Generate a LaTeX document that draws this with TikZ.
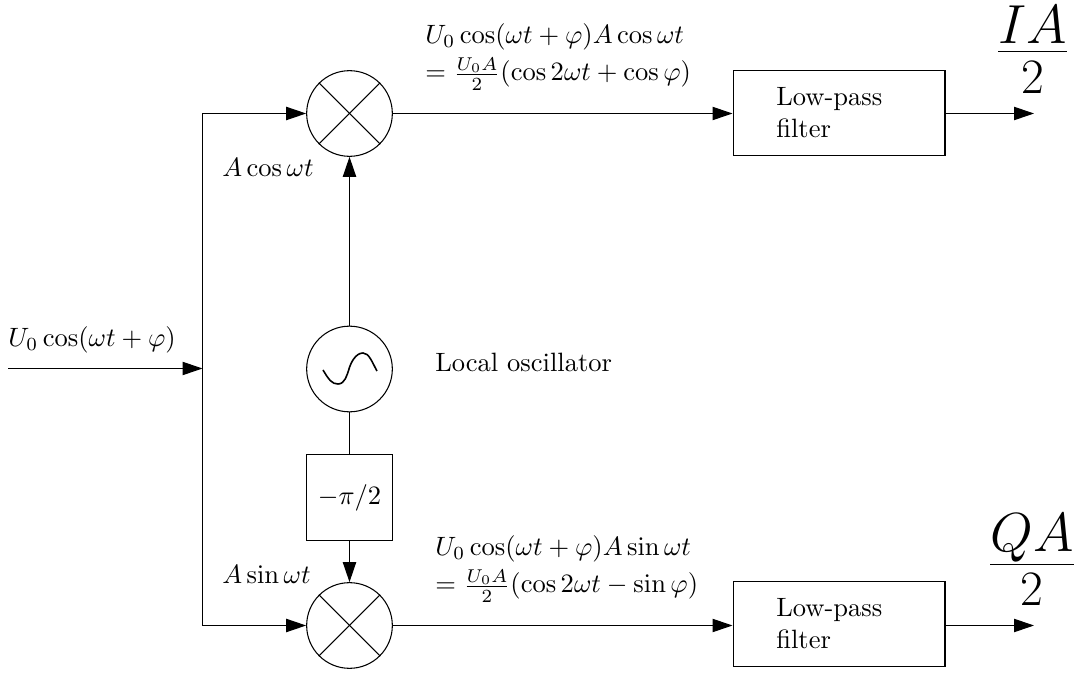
\documentclass[tikz,border=0pt]{standalone}
\usepackage{amsmath, amssymb, graphicx}
\usetikzlibrary{positioning, calc, arrows.meta}

\newcommand{\outfrac}[1]{$\genfrac{}{}{0.4pt}{1}{\textstyle #1}{\textstyle\rule{0pt}{15pt}\scalebox{0.9}{$2$}}$}

\begin{document}
\begin{tikzpicture}[x=0.377pt, y=-0.377pt, >={Triangle[length=7.5pt,width=5pt]},
    mixer/.style={circle, draw, minimum size=32.3pt, inner sep=0pt},
    filterbox/.style={rectangle, draw, minimum width=79.9pt, minimum height=32.3pt, inner sep=0pt},
    phasebox/.style={rectangle, draw, minimum size=32.3pt, inner sep=0pt},
    bigfrac/.style={font=\huge, inner sep=0pt}]

  \useasboundingbox (0,0) rectangle (1078,673);

  \node[mixer] (M1) at (349.5,113.5) {};
  \node[mixer] (LO) at (349.5,369) {};
  \node[phasebox] (P) at (349.5,497.5) {$-\pi/2$};
  \node[mixer] (M2) at (349.5,625.5) {};
  \node[filterbox] (F1) at (839,113) {};
  \node[filterbox] (F2) at (839,624) {};

  \node[anchor=west, align=left] (F1t) at (767,113) {Low-pass\\filter};
  \node[anchor=west, align=left] (F2t) at (767,624) {Low-pass\\filter};
  \node[anchor=west] (LOt) at (426,362) {Local oscillator};

  % the crosses in the mixers
  \draw (M1.north east) -- (M1.south west);
  \draw (M1.north west) -- (M1.south east);
  \draw (M2.north east) -- (M2.south west);
  \draw (M2.north west) -- (M2.south east);
  % the sine in the oscillator
  \draw[semithick] (323,370) .. controls (329,380) and (332,384) .. (338,384)
    .. controls (345,384) and (347,375) .. (349,369)
    .. controls (351,362) and (356,353) .. (363,353)
    .. controls (369,353) and (372,362) .. (377,371);

  \coordinate (in) at (8,368.5);
  \coordinate (split) at (202.5,368.5);
  \coordinate (up) at (202.5,113.5);
  \coordinate (dn) at (202.5,625.5);
  \coordinate (o1) at (1034,113.5);
  \coordinate (o2) at (1034,625.5);

  \draw[->] (in) -- (split);
  \draw[->] (split) -- (up) -- (M1.west);
  \draw[->] (split) -- (dn) -- (M2.west);
  \draw[->] (LO) -- (M1);
  \draw (LO) -- (P);
  \draw[->] (P) -- (M2);
  \draw[->] (M1) -- (F1.west |- M1);
  \draw[->] (M2) -- (F2.west |- M2);
  \draw[->] (F1.east |- o1) -- (o1);
  \draw[->] (F2.east |- o2) -- (o2);

  \node[anchor=west] (L1) at (-1,340) {$U_0\cos(\omega t+\varphi)$};
  \node[anchor=west] (L2) at (213,167) {$A\cos\omega t$};
  \node[anchor=west] (L3) at (213,574) {$A\sin\omega t$};
  \node[anchor=west, align=left] (L4) at (416,57) {$U_0\cos(\omega t+\varphi)A\cos\omega t$\\[2pt]$=\frac{U_0A}{2}(\cos 2\omega t+\cos\varphi)$};
  \node[anchor=west, align=left] (L5) at (426,569) {$U_0\cos(\omega t+\varphi)A\sin\omega t$\\[2pt]$=\frac{U_0A}{2}(\cos 2\omega t-\sin\varphi)$};
  \node[bigfrac] (I) at (1032.5,49.5) {\outfrac{IA\rule[-2.6pt]{0pt}{1pt}}};
  \node[bigfrac] (Q) at (1032,560) {\outfrac{QA}};
\end{tikzpicture}
\end{document}
